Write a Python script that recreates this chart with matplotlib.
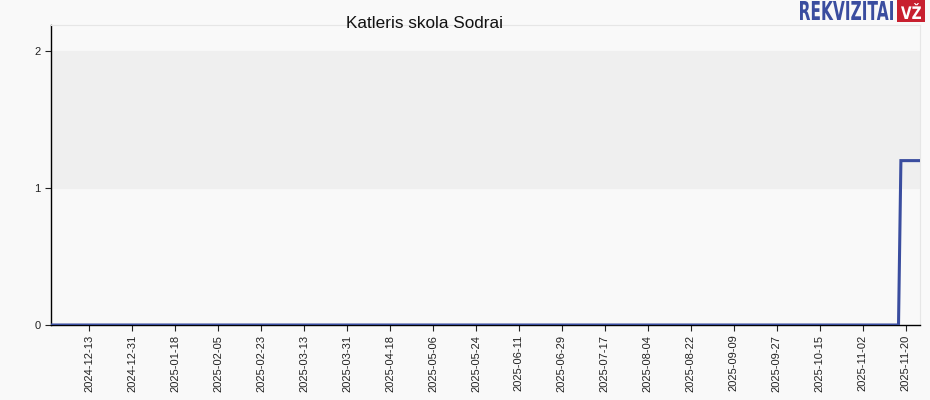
import matplotlib
matplotlib.use("Agg")
import matplotlib.pyplot as plt
import matplotlib.dates as mdates
from matplotlib.textpath import TextPath
from matplotlib.patches import PathPatch, Rectangle
from matplotlib.font_manager import FontProperties
from matplotlib.transforms import Affine2D
import numpy as np
import pandas as pd

plt.rcParams["font.family"] = ["Liberation Sans", "DejaVu Sans"]

# Data
start_date = "2024-11-27"
end_date = "2025-11-26"
step_date = "2025-11-18"
value_before = 0.0
value_after = 1.2
tick_start = "2024-12-13"
tick_step_days = 18
title = "Katleris skola Sodrai"

dates = pd.date_range(start_date, end_date, freq="D")
values = np.where(dates >= pd.Timestamp(step_date), value_after, value_before)
ticks = pd.date_range(tick_start, end_date, freq=f"{tick_step_days}D")

W, H = 930, 400
fig = plt.figure(figsize=(W/100, H/100), dpi=100)
fig.patch.set_facecolor("#f9f9f9")
ax = fig.add_axes([51/W, 75/H, (920-51)/W, (325-25)/H])
ax.set_facecolor("#f9f9f9")
ax.axhspan(1, 2, color="#efefef", zorder=0)

ax.plot(dates, values, color="#3a4d9f", lw=2.2, zorder=3, solid_joinstyle="miter")

ax.set_xlim(pd.Timestamp(start_date), pd.Timestamp(end_date))
ax.set_ylim(0, 2.19)
ax.set_yticks([0, 1, 2])
ax.set_yticklabels(["0", "1", "2"])
ax.set_xticks(ticks)
ax.xaxis.set_major_formatter(mdates.DateFormatter("%Y-%m-%d"))
for lbl in ax.get_xticklabels():
    lbl.set_rotation(90)
ax.tick_params(axis="both", labelsize=8, length=4, colors="#222222", labelcolor="#222222")
ax.tick_params(axis="x", pad=3)

for s in ["top", "right"]:
    ax.spines[s].set_color("#e6e6e6")
    ax.spines[s].set_linewidth(0.8)
for s in ["left", "bottom"]:
    ax.spines[s].set_color("#000000")
    ax.spines[s].set_linewidth(1.0)

fig.text(424/W, 1 - 24/H, title, ha="center", va="center", fontsize=12.3, color="#111111")

# Logo drawn in figure pixel coordinates (origin bottom-left)
fp = FontProperties(family="DejaVu Sans", weight="bold")
tp = TextPath((0, 0), "REKVIZITAI", size=20, prop=fp)
bb = tp.get_extents()
target_w, target_h = 93, 19
tr = Affine2D().translate(-bb.x0, -bb.y0).scale(target_w / bb.width, target_h / bb.height).translate(800, H - 20)
fig.patches.append(PathPatch(tr.transform_path(tp), fc="#3a4d9f", ec="none",
                             transform=None, figure=fig))
fig.patches.append(Rectangle((897, H - 22), 28, 22, fc="#c8202f", ec="none",
                             transform=None, figure=fig))
tp2 = TextPath((0, 0), "VŽ", size=20, prop=fp)
bb2 = tp2.get_extents()
tr2 = Affine2D().translate(-bb2.x0, -bb2.y0).scale(20 / bb2.width, 16 / bb2.height).translate(901, H - 19)
fig.patches.append(PathPatch(tr2.transform_path(tp2), fc="white", ec="none",
                             transform=None, figure=fig))

fig.savefig("out.png", dpi=100, facecolor=fig.get_facecolor())
